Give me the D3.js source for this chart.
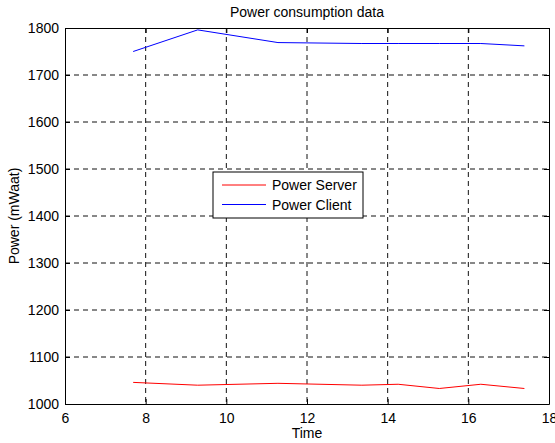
<!DOCTYPE html>
<html>
<head>
<meta charset="utf-8">
<script src="https://cdn.jsdelivr.net/npm/d3@7"></script>
<style>
  body { margin: 0; background: #fff; }
  text { font-family: "Liberation Sans", Arial, sans-serif; }
</style>
</head>
<body>
<div id="chart-area"></div>
<script>
const width = 555;
const height = 443;
const margin = {left: 65, top: 28, right: 6, bottom: 39};

// data
const times = [7.69, 9.29, 11.28, 13.36, 14.26, 15.28, 16.31, 17.39];
const serverPower = [1046, 1040, 1044, 1040, 1042, 1033, 1042, 1033];
const clientPower = [1750, 1796, 1769, 1767, 1767, 1767, 1767, 1762];
const xTicks = [6, 8, 10, 12, 14, 16, 18];
const yTicks = [1000, 1100, 1200, 1300, 1400, 1500, 1600, 1700, 1800];
const seriesNames = ["Power Server", "Power Client"];
const seriesColors = ["#ff0000", "#0000ff"];

const fontSize = 14;

const svg = d3.select("#chart-area")
    .append("svg")
    .attr("width", width)
    .attr("height", height);

const innerWidth = width - margin.left - margin.right;
const innerHeight = height - margin.top - margin.bottom;

const g = svg.append("g")
    .attr("transform", `translate(${margin.left},${margin.top})`);

const xScale = d3.scaleLinear().domain([6, 18]).range([0, innerWidth]);
const yScale = d3.scaleLinear().domain([1000, 1800]).range([innerHeight, 0]);

// grid (dashed)
g.selectAll(".vgrid")
    .data(xTicks.slice(1, -1))
    .enter().append("line")
    .attr("x1", d => xScale(d)).attr("x2", d => xScale(d))
    .attr("y1", 0).attr("y2", innerHeight)
    .attr("stroke", "#111").attr("stroke-width", 1)
    .attr("stroke-dasharray", "5,4");

g.selectAll(".hgrid")
    .data(yTicks.slice(1, -1))
    .enter().append("line")
    .attr("y1", d => yScale(d)).attr("y2", d => yScale(d))
    .attr("x1", 0).attr("x2", innerWidth)
    .attr("stroke", "#111").attr("stroke-width", 1)
    .attr("stroke-dasharray", "5,4");

// axes, ticks pointing inwards
const fmt = d3.format("d");
const xAxis = d3.axisBottom(xScale).tickValues(xTicks).tickFormat(fmt).tickSizeInner(-5).tickSizeOuter(0).tickPadding(9);
const yAxis = d3.axisLeft(yScale).tickValues(yTicks).tickFormat(fmt).tickSizeInner(-5).tickSizeOuter(0).tickPadding(6);
const xTop = d3.axisTop(xScale).tickValues(xTicks).tickSizeInner(-5).tickSizeOuter(0).tickFormat("");
const yRight = d3.axisRight(yScale).tickValues(yTicks).tickSizeInner(-5).tickSizeOuter(0).tickFormat("");

g.append("g").attr("transform", `translate(0,${innerHeight})`).call(xAxis);
g.append("g").call(yAxis);
g.append("g").call(xTop);
g.append("g").attr("transform", `translate(${innerWidth},0)`).call(yRight);

g.selectAll(".domain").attr("stroke", "#000");
g.selectAll(".tick line").attr("stroke", "#000");
g.selectAll(".tick text").attr("font-size", fontSize).attr("fill", "#000")
    .attr("font-family", "'Liberation Sans', Arial, sans-serif");

// lines
const line = d3.line()
    .x((d, i) => xScale(times[i]))
    .y(d => yScale(d));

[serverPower, clientPower].forEach((vals, k) => {
    g.append("path")
        .datum(vals)
        .attr("d", line)
        .attr("fill", "none")
        .attr("stroke", seriesColors[k])
        .attr("stroke-width", 1);
});

// labels
svg.append("text")
    .attr("x", margin.left + innerWidth / 2)
    .attr("y", 17)
    .attr("text-anchor", "middle")
    .attr("font-size", fontSize)
    .text("Power consumption data");

svg.append("text")
    .attr("x", margin.left + innerWidth / 2)
    .attr("y", 438)
    .attr("text-anchor", "middle")
    .attr("font-size", fontSize)
    .text("Time");

svg.append("text")
    .attr("transform", `translate(19,${margin.top + innerHeight / 2}) rotate(-90)`)
    .attr("text-anchor", "middle")
    .attr("font-size", fontSize)
    .text("Power (mWaat)");

// legend
const legend = svg.append("g").attr("transform", "translate(213,172)");
legend.append("rect")
    .attr("width", 150).attr("height", 46)
    .attr("fill", "#fff").attr("stroke", "#000");

seriesNames.forEach((name, i) => {
    const row = legend.append("g").attr("transform", `translate(0,${13 + i * 19.5})`);
    row.append("line")
        .attr("x1", 9).attr("x2", 53)
        .attr("stroke", seriesColors[i]);
    row.append("text")
        .attr("x", 59).attr("y", 5)
        .attr("font-size", fontSize)
        .text(name);
});
</script>
</body>
</html>
